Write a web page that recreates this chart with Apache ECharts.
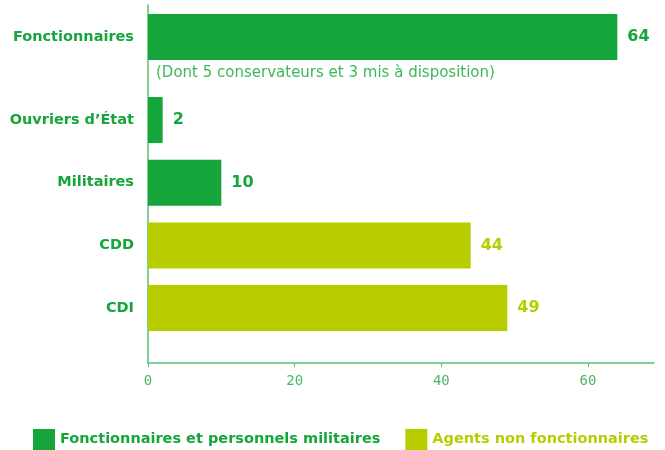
<!DOCTYPE html>
<html>
<head>
<meta charset="utf-8">
<script src="https://cdn.jsdelivr.net/npm/echarts@6/dist/echarts.min.js"></script>
<style>
  html, body { margin: 0; padding: 0; background: #fff; }
  #chart { width: 665px; height: 450px; }
</style>
</head>
<body>
<div id="chart"></div>
<script>
  // data
  const categories = ['Fonctionnaires', 'Ouvriers d’État', 'Militaires', 'CDD', 'CDI']
  const values = [64, 2, 10, 44, 49]
  const isTitulaire = [true, true, true, false, false]
  const seriesNames = ['Fonctionnaires et personnels militaires', 'Agents non fonctionnaires']
  const note = '(Dont 5 conservateurs et 3 mis à disposition)'
  const xTicks = [0, 20, 40, 60]
  const xMax = 69

  const GREEN = '#16a53a'
  const LIME = '#b8cd00'
  const AXIS = '#5dbd75'
  const FONT = 'DejaVu Sans'

  const chart = echarts.init(document.getElementById('chart'))

  // first row sits in its own band (room for the note under it)
  const topCats = categories.slice(0, 1)
  const restCats = categories.slice(1)
  const restVals = values.slice(1)
  const restTit = isTitulaire.slice(1)

  const valueLabel = (color) => ({
    show: true,
    position: 'right',
    distance: 10,
    color: color,
    fontFamily: FONT,
    fontWeight: 'bold',
    fontSize: 16
  })

  const hiddenX = (i) => ({
    type: 'value', gridIndex: i, min: 0, max: xMax,
    axisLine: { show: false }, axisTick: { show: false },
    axisLabel: { show: false }, splitLine: { show: false }
  })

  const catY = (i, data) => ({
    type: 'category', gridIndex: i, data: data, inverse: true,
    axisLine: { show: false }, axisTick: { show: false },
    axisLabel: {
      margin: 14, color: GREEN, fontFamily: FONT,
      fontWeight: 'bold', fontSize: 14.5
    }
  })

  chart.setOption({
    animation: false,
    grid: [
      { left: 148, right: 11, top: 5, bottom: 87 },
      { left: 148, right: 11, top: 5, height: 64 },
      { left: 148, right: 11, top: 88.7, height: 250.7 }
    ],
    xAxis: [
      {
        type: 'value', gridIndex: 0, min: 0, max: xMax,
        axisLine: { show: true, lineStyle: { color: AXIS, width: 1.5 } },
        axisTick: {
          show: true, length: 4, customValues: xTicks,
          lineStyle: { color: AXIS }
        },
        axisLabel: {
          margin: 11, color: '#4cb565', customValues: xTicks,
          fontFamily: 'DejaVu Sans Mono', fontSize: 14
        },
        splitLine: { show: false }
      },
      hiddenX(1),
      hiddenX(2)
    ],
    yAxis: [
      {
        type: 'value', gridIndex: 0, min: 0, max: 1,
        axisLine: { show: true, lineStyle: { color: AXIS, width: 1.5 } },
        axisTick: { show: false }, axisLabel: { show: false },
        splitLine: { show: false }
      },
      catY(1, topCats),
      catY(2, restCats)
    ],
    legend: {
      left: 33, bottom: 0, padding: 0,
      itemWidth: 22, itemHeight: 21, itemGap: 25,
      icon: 'rect',
      textStyle: { fontFamily: FONT, fontWeight: 'bold', fontSize: 14.5 },
      data: [
        { name: seriesNames[0], textStyle: { color: GREEN } },
        { name: seriesNames[1], textStyle: { color: LIME } }
      ]
    },
    graphic: [{
      type: 'text', left: 156, top: 66,
      style: {
        text: note, fill: '#3db85a',
        fontFamily: FONT, fontSize: 15
      }
    }],
    series: [
      {
        name: seriesNames[0], type: 'bar', xAxisIndex: 1, yAxisIndex: 1,
        barWidth: 46, color: GREEN,
        label: valueLabel(GREEN),
        data: values.slice(0, 1)
      },
      {
        name: seriesNames[0], type: 'bar', xAxisIndex: 2, yAxisIndex: 2,
        stack: 'rows', barWidth: 46, color: GREEN,
        label: valueLabel(GREEN),
        data: restVals.map((v, i) => restTit[i] ? v : '-')
      },
      {
        name: seriesNames[1], type: 'bar', xAxisIndex: 2, yAxisIndex: 2,
        stack: 'rows', barWidth: 46, color: LIME,
        label: valueLabel(LIME),
        data: restVals.map((v, i) => restTit[i] ? '-' : v)
      }
    ]
  })
</script>
</body>
</html>
